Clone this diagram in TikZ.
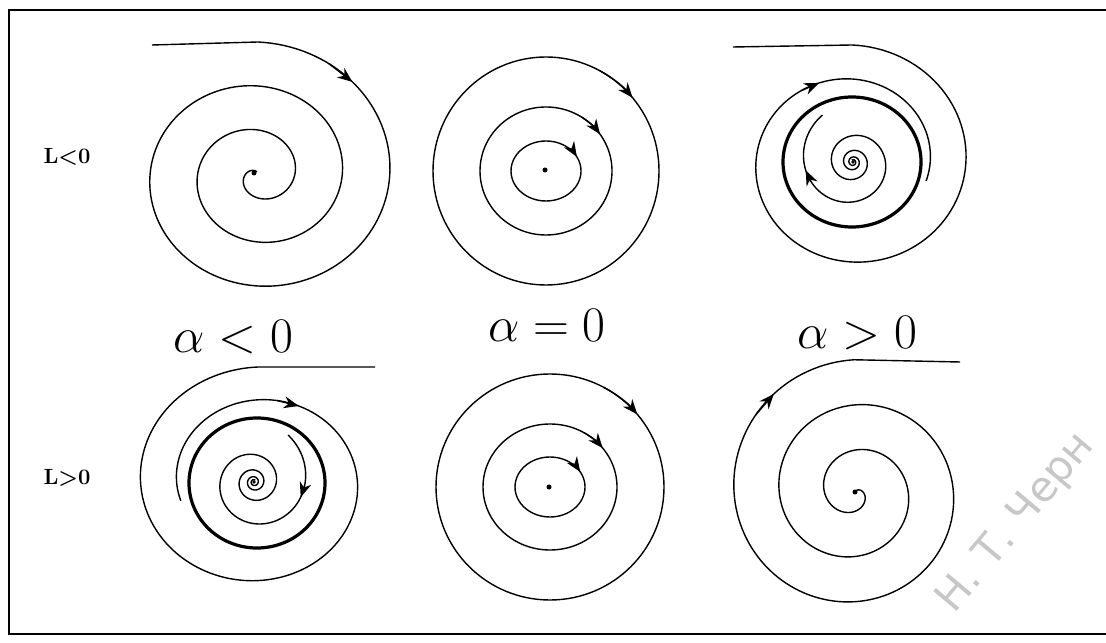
\documentclass[tikz,border=0pt]{standalone}
\usepackage{fontspec}
\newfontfamily\wmfont{DejaVu Sans}
\usetikzlibrary{arrows.meta}

\tikzset{
  traj/.style={line width=0.7pt, line join=round},
  limcycle/.style={line width=1.6pt},
  tip/.style={-{Stealth[length=7.5pt, width=6pt]}},
  lbl/.style={font=\fontsize{11}{13}\selectfont\bfseries\boldmath},
  alab/.style={font=\Huge},
}

\begin{document}
\begin{tikzpicture}[x=0.5pt, y=0.5pt]
  \useasboundingbox (0,0) rectangle (1106,642);
  \clip (0,0) rectangle (1106,642);
  % Frame (its right side runs off the page)
  \draw[line width=0.8pt] (1120,632) -- (9,632) -- (9,8) -- (1120,8);

  % Row and column labels
  \node[lbl] (lneg) at (67,485) {L$<$0};
  \node[lbl] (lpos) at (67,164) {L$>$0};
  \node[alab] (aneg) at (233,305) {$\alpha<0$};
  \node[alab] (azero) at (547,317) {$\alpha=0$};
  \node[alab] (apos) at (857,309) {$\alpha>0$};

  % L<0, alpha<0: stable focus
  \draw[traj] (152,597) -- plot[domain=-1:10.8, samples=400]
    ({258+1.08*(122-11*\x)*cos(-90*\x)}, {467+(122-11*\x)*sin(-90*\x)});
  \draw[traj, tip] plot[domain=-0.66:-0.52, samples=2]
    ({258+1.08*(122-11*\x)*cos(-90*\x)}, {467+(122-11*\x)*sin(-90*\x)});
  \fill (254,469) circle[radius=2.5];

  % L<0, alpha=0: centre
  \foreach \rx/\ry/\a in {113/114/40, 66/64/35, 35/30/28} {
    \draw[traj] (546,471) ellipse[x radius=\rx, y radius=\ry];
    \draw[traj, tip] ({546+\rx*cos(\a+22)}, {471+\ry*sin(\a+22)})
      arc[start angle=\a+22, end angle=\a, x radius=\rx, y radius=\ry];
  }
  \fill (545,472) circle[radius=2.5];

  % L<0, alpha>0: stable limit cycle
  \draw[limcycle] (852,480) ellipse[x radius=69, y radius=65];
  \draw[traj] (733,595) -- plot[domain=-1:4.17, samples=160]
    ({852+1.05*(108.5-8.5*\x)*cos(-90*\x)}, {480+(108.5-8.5*\x)*sin(-90*\x)});
  \draw[traj, tip] plot[domain=2.62:2.76, samples=2]
    ({852+1.05*(108.5-8.5*\x)*cos(-90*\x)}, {480+(108.5-8.5*\x)*sin(-90*\x)});
  \draw[traj] plot[domain=0:1440, samples=400]
    ({853+56*exp(-0.0023*\x)*cos(123+\x)}, {480+56*exp(-0.0023*\x)*sin(123+\x)});
  \draw[traj, tip]
    ({853+56*exp(-0.0023*82)*cos(205)}, {480+56*exp(-0.0023*82)*sin(205)}) --
    ({853+56*exp(-0.0023*67)*cos(190)}, {480+56*exp(-0.0023*67)*sin(190)});
  \fill (853,480) circle[radius=1.8];

  % L>0, alpha<0: unstable limit cycle
  \draw[limcycle] (257,159) ellipse[x radius=68, y radius=65];
  \draw[traj] plot[domain=-15:450, samples=200]
    ({258+1.1*(74+0.0911*\x)*cos(180-\x)}, {160+(74+0.0911*\x)*sin(180-\x)})
    -- (375,275);
  \draw[traj, tip] plot[domain=102:116, samples=2]
    ({258+1.1*(74+0.0911*\x)*cos(180-\x)}, {160+(74+0.0911*\x)*sin(180-\x)});
  \draw[traj] plot[domain=0:1440, samples=400]
    ({254+58*exp(-0.0023*\x)*cos(54-\x)}, {160+58*exp(-0.0023*\x)*sin(54-\x)});
  \draw[traj, tip] plot[domain=58:72, samples=2]
    ({254+58*exp(-0.0023*\x)*cos(54-\x)}, {160+58*exp(-0.0023*\x)*sin(54-\x)});
  \fill (254,160) circle[radius=1.8];

  % L>0, alpha=0: centre
  \foreach \rx/\ry/\a in {114/113/40, 67/63/38, 35/30/30} {
    \draw[traj] (550,155) ellipse[x radius=\rx, y radius=\ry];
    \draw[traj, tip] ({550+\rx*cos(\a+22)}, {155+\ry*sin(\a+22)})
      arc[start angle=\a+22, end angle=\a, x radius=\rx, y radius=\ry];
  }
  \fill (549,155) circle[radius=2.5];

  % L>0, alpha>0: unstable focus
  \draw[traj] plot[domain=-0.7:11, samples=400]
    ({855+(8+11.3*\x)*cos(-90*\x)}, {150+(8+11.3*\x)*sin(-90*\x)})
    -- (960,280);
  \draw[traj, tip] plot[domain=10.42:10.56, samples=2]
    ({855+(8+11.3*\x)*cos(-90*\x)}, {150+(8+11.3*\x)*sin(-90*\x)});
  \fill (855,150) circle[radius=2.5];

  % Watermark of the scan
  \node[font=\wmfont\fontsize{21}{21}\selectfont, text=black!22, rotate=50,
    anchor=base west] (wmark) at (950,22) {Н. Т. Черн};
\end{tikzpicture}
\end{document}
